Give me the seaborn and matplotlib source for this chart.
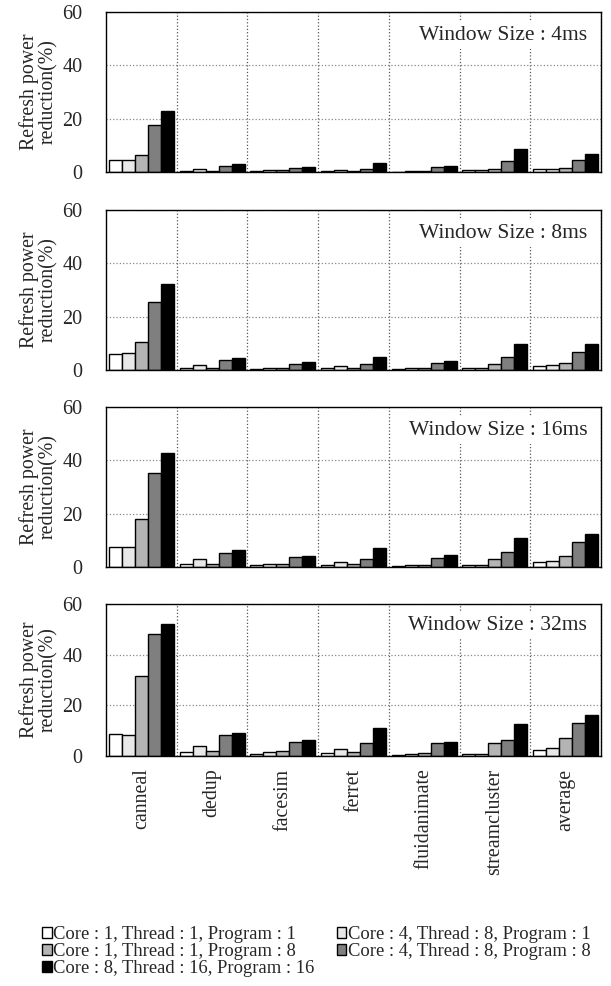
import numpy as np
import pandas as pd
import matplotlib
matplotlib.use("Agg")
import matplotlib.pyplot as plt
import seaborn as sns

# Datos
benchmarks = ['canneal', 'dedup', 'facesim', 'ferret', 'fluidanimate', 'streamcluster', 'average']
configs = ['Core : 1, Thread : 1, Program : 1',
           'Core : 4, Thread : 8, Program : 1',
           'Core : 1, Thread : 1, Program : 8',
           'Core : 4, Thread : 8, Program : 8',
           'Core : 8, Thread : 16, Program : 16']
windows = ['4ms', '8ms', '16ms', '32ms']

# valores por ventana: una fila por benchmark, una columna por configuracion
w4 = [[4.4, 4.6, 6.3, 17.7, 22.8],
      [0.3, 1.0, 0.4, 2.3, 2.9],
      [0.3, 0.6, 0.6, 1.4, 1.9],
      [0.3, 0.9, 0.5, 1.3, 3.3],
      [0.1, 0.5, 0.2, 1.8, 2.1],
      [0.6, 0.8, 1.1, 4.3, 8.5],
      [1.0, 1.3, 1.6, 4.6, 6.9]]
w8 = [[6.0, 6.4, 10.6, 25.5, 32.3],
      [0.6, 2.0, 0.9, 3.6, 4.5],
      [0.5, 0.9, 0.9, 2.4, 3.0],
      [0.6, 1.4, 0.9, 2.1, 4.9],
      [0.4, 0.75, 0.6, 2.6, 3.5],
      [0.9, 0.9, 2.3, 4.9, 9.6],
      [1.5, 2.0, 2.75, 6.9, 9.6]]
w16 = [[7.6, 7.6, 18.0, 35.4, 42.7],
       [1.0, 2.9, 1.1, 5.25, 6.4],
       [0.6, 1.1, 1.25, 3.6, 4.1],
       [0.75, 1.75, 1.1, 3.1, 7.0],
       [0.25, 0.6, 0.6, 3.5, 4.4],
       [0.6, 0.6, 3.1, 5.5, 10.75],
       [1.75, 2.4, 4.25, 9.4, 12.5]]
w32 = [[8.8, 8.4, 31.6, 48.3, 52.3],
       [1.5, 4.0, 1.9, 8.1, 9.1],
       [0.8, 1.5, 1.9, 5.7, 6.3],
       [1.1, 2.9, 1.7, 5.1, 10.9],
       [0.4, 0.7, 1.1, 5.2, 5.7],
       [0.7, 0.7, 5.2, 6.4, 12.8],
       [2.3, 3.1, 7.2, 13.2, 16.1]]

colors = ['#ffffff', '#e8e8e8', '#b4b4b4', '#7f7f7f', '#000000']

sns.set_style('white')
plt.rcParams['font.family'] = ['Liberation Serif', 'DejaVu Serif']

fig = plt.figure(figsize=(6.11, 9.86), dpi=100)
W, H = 611, 986
# posiciones de los paneles en pixeles (top, bottom)
panels = [(12, 172), (210, 370), (407, 567), (604, 756)]
left, right = 106, 601

for i, (wname, vals) in enumerate(zip(windows, [w4, w8, w16, w32])):
    top, bot = panels[i]
    ax = fig.add_axes([left / W, 1 - bot / H, (right - left) / W, (bot - top) / H])
    rows = []
    for b, v in zip(benchmarks, vals):
        for c, x in zip(configs, v):
            rows.append({'bench': b, 'config': c, 'value': x})
    df = pd.DataFrame(rows)
    sns.barplot(data=df, x='bench', y='value', hue='config', palette=colors,
                edgecolor='black', linewidth=1.0, width=0.92, ax=ax, legend=(i == 3))
    ax.set_ylim(0, 60)
    ax.set_xlim(-0.5, len(benchmarks) - 0.5)
    ax.set_yticks([0, 20, 40, 60])
    ax.set_xticks(np.arange(len(benchmarks)) + 0.5, minor=True)
    ax.grid(True, axis='y', which='major', linestyle=':', color='#888888', linewidth=0.9)
    ax.grid(True, axis='x', which='minor', linestyle=':', color='#555555', linewidth=0.9)
    ax.grid(False, axis='x', which='major')
    ax.set_axisbelow(True)
    for s in ax.spines.values():
        s.set_color('black')
        s.set_linewidth(1.0)
    ax.tick_params(axis='y', labelsize=14.5, length=0, pad=17)
    ax.tick_params(axis='x', which='both', length=0, pad=9)
    ax.set_xlabel('')
    ax.set_ylabel('Refresh power\nreduction(%)', fontsize=14.3, labelpad=3, linespacing=1.0)
    ax.text(0.972, 0.856, 'Window Size : ' + wname, transform=ax.transAxes,
            ha='right', va='center', fontsize=15.5,
            bbox=dict(facecolor='white', edgecolor='none', pad=3))
    if i < 3:
        ax.set_xticklabels([])
    else:
        ax.set_xticklabels(benchmarks, rotation=90, fontsize=14.3)
        handles, labels = ax.get_legend_handles_labels()
        ax.get_legend().remove()
        order = [0, 2, 4, 1, 3]  # orden por filas como en la figura
        fig.legend([handles[k] for k in order], [labels[k] for k in order],
                   loc='upper left', bbox_to_anchor=(33 / W, 1 - 917 / H),
                   ncol=2, frameon=False, fontsize=13.4, handlelength=0.5, handleheight=0.5,
                   handletextpad=0.1, columnspacing=1.2, labelspacing=0.0, borderpad=0)

fig.savefig('out.png', dpi=100)
